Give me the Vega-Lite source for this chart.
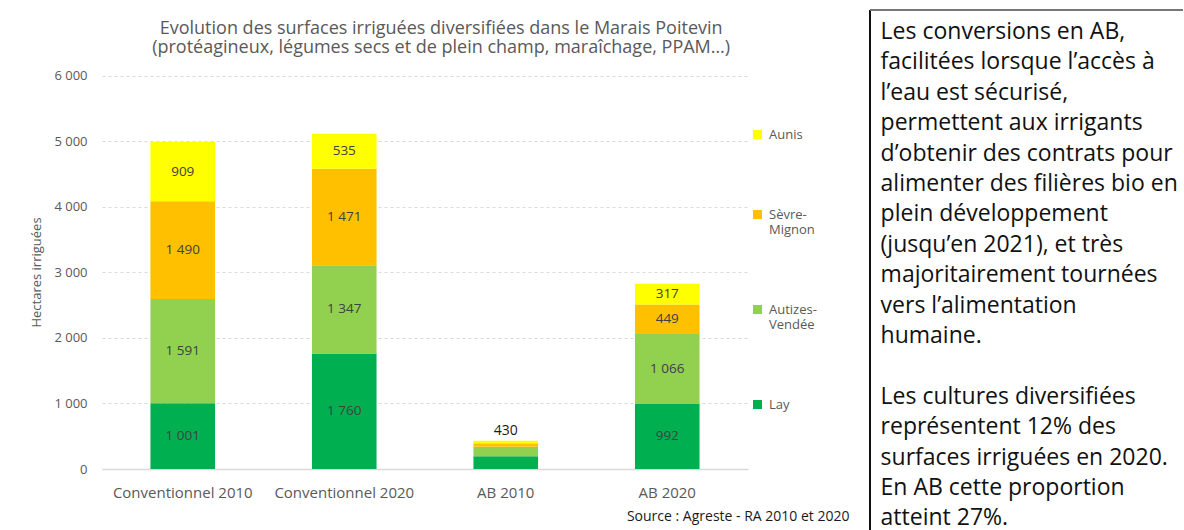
{
  "$schema": "https://vega.github.io/schema/vega-lite/v6.json",
  "padding": {"left": 30, "top": 9, "right": 0, "bottom": 0},
  "bounds": "flush",
  "spacing": 122,
  "background": "white",
  "config": {
    "font": "Open Sans",
    "view": {"stroke": null},
    "locale": {"number": {"decimal": ",", "thousands": "\u00a0", "grouping": [3], "currency": ["", "\u00a0€"]}}
  },
  "datasets": {
    "irrig": [
      {"categorie": "Conventionnel 2010", "zone": "Lay", "surface": 1001},
      {"categorie": "Conventionnel 2010", "zone": "Autizes-Vendée", "surface": 1591},
      {"categorie": "Conventionnel 2010", "zone": "Sèvre-Mignon", "surface": 1490},
      {"categorie": "Conventionnel 2010", "zone": "Aunis", "surface": 909},
      {"categorie": "Conventionnel 2020", "zone": "Lay", "surface": 1760},
      {"categorie": "Conventionnel 2020", "zone": "Autizes-Vendée", "surface": 1347},
      {"categorie": "Conventionnel 2020", "zone": "Sèvre-Mignon", "surface": 1471},
      {"categorie": "Conventionnel 2020", "zone": "Aunis", "surface": 535},
      {"categorie": "AB 2010", "zone": "Lay", "surface": 195},
      {"categorie": "AB 2010", "zone": "Autizes-Vendée", "surface": 145},
      {"categorie": "AB 2010", "zone": "Sèvre-Mignon", "surface": 52},
      {"categorie": "AB 2010", "zone": "Aunis", "surface": 38},
      {"categorie": "AB 2020", "zone": "Lay", "surface": 992},
      {"categorie": "AB 2020", "zone": "Autizes-Vendée", "surface": 1066},
      {"categorie": "AB 2020", "zone": "Sèvre-Mignon", "surface": 449},
      {"categorie": "AB 2020", "zone": "Aunis", "surface": 317}
    ],
    "texte": [
      {"ligne": 1, "texte": "Les conversions en AB,"},
      {"ligne": 2, "texte": "facilitées lorsque l’accès à"},
      {"ligne": 3, "texte": "l’eau est sécurisé,"},
      {"ligne": 4, "texte": "permettent aux irrigants"},
      {"ligne": 5, "texte": "d’obtenir des contrats pour"},
      {"ligne": 6, "texte": "alimenter des filières bio en"},
      {"ligne": 7, "texte": "plein développement"},
      {"ligne": 8, "texte": "(jusqu’en 2021), et très"},
      {"ligne": 9, "texte": "majoritairement tournées"},
      {"ligne": 10, "texte": "vers l’alimentation"},
      {"ligne": 11, "texte": "humaine."},
      {"ligne": 13, "texte": "Les cultures diversifiées"},
      {"ligne": 14, "texte": "représentent 12% des"},
      {"ligne": 15, "texte": "surfaces irriguées en 2020."},
      {"ligne": 16, "texte": "En AB cette proportion"},
      {"ligne": 17, "texte": "atteint 27%."}
    ]
  },
  "hconcat": [
    {
      "width": 646,
      "height": 459,
      "data": {"name": "irrig"},
      "transform": [
        {"calculate": "indexof(['Lay', 'Autizes-Vendée', 'Sèvre-Mignon', 'Aunis'], datum.zone)", "as": "ordre"}
      ],
      "encoding": {
        "x": {
          "field": "categorie",
          "type": "nominal",
          "sort": ["Conventionnel 2010", "Conventionnel 2020", "AB 2010", "AB 2020"],
          "scale": {"paddingInner": 0.6, "paddingOuter": 0.3},
          "axis": {
            "title": "Source : Agreste  - RA 2010 et 2020",
            "titleX": 747,
            "titleY": 47,
            "titleAlign": "right",
            "titleBaseline": "middle",
            "titleFontSize": 14,
            "titleFontWeight": "normal",
            "titleColor": "#1a1a1a",
            "labelAngle": 0,
            "labelPadding": 16,
            "labelColor": "#595959",
            "labelFontSize": 15,
            "ticks": false,
            "domainColor": "#d9d9d9",
            "domainWidth": 1.5
          }
        }
      },
      "layer": [
        {
          "mark": {"type": "bar"},
          "encoding": {
            "y": {
              "field": "surface",
              "type": "quantitative",
              "stack": "zero",
              "scale": {"domain": [0, 7000], "nice": false, "zero": false},
              "axis": {
                "values": [0, 1000, 2000, 3000, 4000, 5000, 6000],
                "format": ",d",
                "grid": true,
                "gridDash": [3, 3],
                "gridColor": "#d9d9d9",
                "domain": false,
                "ticks": false,
                "labelPadding": 15,
                "labelColor": "#595959",
                "labelFontSize": 13,
                "title": "Hectares irriguées",
                "titleFontWeight": "normal",
                "titleFontSize": 13,
                "titleColor": "#595959",
                "titleX": -66,
                "titleY": 262,
                "titleAngle": -90,
                "titleAlign": "center",
                "titleBaseline": "middle"
              }
            },
            "order": {"field": "ordre", "type": "quantitative"},
            "color": {
              "field": "zone",
              "type": "nominal",
              "scale": {
                "domain": ["Lay", "Autizes-Vendée", "Sèvre-Mignon", "Aunis"],
                "range": ["#00B050", "#92D050", "#FFC000", "#FFFF00"]
              },
              "legend": {
                "values": ["Aunis", "Sèvre-Mignon", "Autizes-Vendée", "Lay"],
                "title": null,
                "orient": "none",
                "legendX": 649,
                "legendY": 118,
                "padding": 0,
                "symbolType": "square",
                "symbolSize": 81,
                "symbolStrokeWidth": 0,
                "labelFontSize": 13,
                "labelColor": "#595959",
                "labelOffset": 5,
                "rowPadding": 66,
                "labelExpr": "indexof(datum.label, '-') > 0 ? [slice(datum.label, 0, indexof(datum.label, '-') + 1), slice(datum.label, indexof(datum.label, '-') + 1)] : datum.label"
              }
            }
          }
        },
        {
          "transform": [{"filter": "datum.categorie != 'AB 2010'"}],
          "mark": {"type": "text", "fontSize": 13.5, "color": "#404040", "baseline": "middle"},
          "encoding": {
            "y": {"field": "surface", "type": "quantitative", "stack": "zero", "bandPosition": 0.5, "scale": {"domain": [0, 7000], "nice": false, "zero": false}},
            "order": {"field": "ordre", "type": "quantitative"},
            "text": {"field": "surface", "type": "quantitative", "format": ",d"}
          }
        },
        {
          "transform": [
            {"filter": "datum.categorie == 'AB 2010'"},
            {"aggregate": [{"op": "sum", "field": "surface", "as": "total"}], "groupby": ["categorie"]}
          ],
          "mark": {"type": "text", "fontSize": 14, "color": "#1a1a1a", "baseline": "bottom", "dy": -3},
          "encoding": {
            "y": {"field": "total", "type": "quantitative", "scale": {"domain": [0, 7000], "nice": false, "zero": false}},
            "text": {"field": "total", "type": "quantitative", "format": ",d"}
          }
        },
        {
          "data": {"values": [{}]},
          "mark": {"type": "text", "fontSize": 18, "color": "#595959", "align": "center", "baseline": "middle"},
          "encoding": {
            "x": {"datum": "AB 2010", "type": "nominal", "bandPosition": -0.5},
            "y": {"datum": 6710, "type": "quantitative", "scale": {"domain": [0, 7000], "nice": false, "zero": false}},
            "text": {"value": "Evolution des surfaces irriguées diversifiées  dans le Marais Poitevin"}
          }
        },
        {
          "data": {"values": [{}]},
          "mark": {"type": "text", "fontSize": 18, "color": "#595959", "align": "center", "baseline": "middle"},
          "encoding": {
            "x": {"datum": "AB 2010", "type": "nominal", "bandPosition": -0.5},
            "y": {"datum": 6420, "type": "quantitative", "scale": {"domain": [0, 7000], "nice": false, "zero": false}},
            "text": {"value": "(protéagineux, légumes secs et de plein champ, maraîchage, PPAM…)"}
          }
        }
      ]
    },
    {
      "width": 313,
      "height": 520,
      "data": {"name": "texte"},
      "layer": [
        {
          "mark": {"type": "text", "align": "left", "baseline": "middle", "fontSize": 23, "color": "#111111"},
          "encoding": {
            "x": {"datum": 0, "type": "quantitative", "scale": {"domain": [-0.035, 1], "zero": false, "nice": false}, "axis": null},
            "y": {"field": "ligne", "type": "quantitative", "scale": {"domain": [0.2763, 17.3816], "reverse": true, "zero": false, "nice": false}, "axis": null},
            "text": {"field": "texte"}
          }
        },
        {
          "mark": {"type": "rule", "color": "#111111", "strokeWidth": 1.5},
          "encoding": {
            "x": {"datum": -0.035, "type": "quantitative", "scale": {"domain": [-0.035, 1], "zero": false, "nice": false}, "axis": null}
          }
        },
        {
          "mark": {"type": "rule", "color": "#777777", "strokeWidth": 1.5},
          "encoding": {
            "y": {"datum": 0.2763, "type": "quantitative", "scale": {"domain": [0.2763, 17.3816], "reverse": true, "zero": false, "nice": false}, "axis": null}
          }
        }
      ]
    }
  ]
}
